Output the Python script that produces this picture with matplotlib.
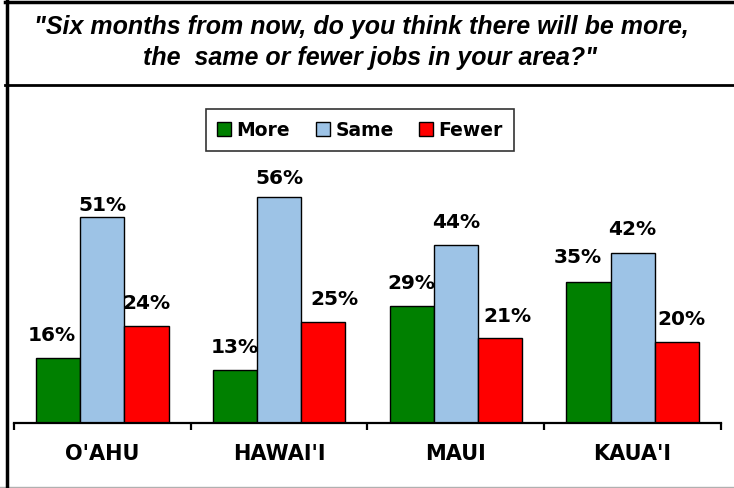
import numpy as np
import matplotlib.pyplot as plt
from matplotlib.lines import Line2D
from matplotlib.patches import Patch

plt.rcParams['font.family'] = ['DejaVu Sans']

islands = ["O'AHU", "HAWAI'I", "MAUI", "KAUA'I"]
more = [16, 13, 29, 35]
same = [51, 56, 44, 42]
fewer = [24, 25, 21, 20]
series_names = ['More', 'Same', 'Fewer']
colors = ['#008000', '#9DC3E6', '#FF0000']

# label nudges in pixels (dx, gap above bar), keyed by (series, island)
label_gap = 17
nudges = {(0, 0): (-6, 17), (0, 3): (-11, 19), (2, 1): (11, 17), (2, 2): (7, 16),
          (2, 3): (5, 17), (1, 0): (0, 6), (1, 1): (0, 13), (1, 3): (0, 18)}

W, H = 734, 488
fig = plt.figure(figsize=(W / 100, H / 100), dpi=100)

# frame lines around the chart and under the question
def hline(y, x0, x1, lw, color='black'):
    fig.add_artist(Line2D([x0 / W, x1 / W], [1 - y / H, 1 - y / H], color=color, lw=lw))

hline(2, 5, W, 2.5)
hline(85, 5, W, 2.0)
hline(486.5, 0, W, 1.0, '#b0b0b0')
fig.add_artist(Line2D([6.5 / W, 6.5 / W], [0, 1], color='black', lw=2.5))

title_font = dict(ha='center', va='center', fontsize=18, fontweight='bold', style='italic',
                  family='Liberation Sans')
fig.text(0.493, 1 - 27 / H, '"Six months from now, do you think there will be more,', **title_font)
fig.text(0.504, 1 - 58 / H, 'the  same or fewer jobs in your area?"', **title_font)

ymax = 70
ax = fig.add_axes([14 / W, 65 / H, (721 - 14) / W, ymax * 4.04 / H])
x = np.arange(len(islands))
width = 0.25
for i, (vals, name) in enumerate(zip([more, same, fewer], series_names)):
    pos = x + (i - 1) * width
    ax.bar(pos, vals, width, color=colors[i], edgecolor='black', linewidth=1.0, label=name)
    for j, (px, v) in enumerate(zip(pos, vals)):
        dx, gap = nudges.get((i, j), (0, label_gap))
        ax.annotate(f'{v}%', (px, v), xytext=(dx * 0.72, gap * 0.72), textcoords='offset points',
                    ha='center', va='baseline', fontsize=14.5, fontweight='bold')

ax.set_xlim(-0.5, len(islands) - 0.5)
ax.set_ylim(0, ymax)
for s in ['top', 'right', 'left']:
    ax.spines[s].set_visible(False)
ax.spines['bottom'].set_linewidth(1.6)
ax.set_yticks([])
ax.set_xticks(x)
ax.set_xticklabels([])
ax.tick_params(axis='x', which='major', length=0)
for xi, name in zip(x, islands):
    ax.annotate(name, (xi, 0), xytext=(0, -37 * 0.72), textcoords='offset points',
                ha='center', va='baseline', fontsize=15, fontweight='bold')
ax.set_xticks(np.arange(-0.5, len(islands)), minor=True)
ax.tick_params(axis='x', which='minor', length=5, width=1.6, direction='out')
ax.patch.set_visible(False)

handles = [Patch(facecolor=c, edgecolor='black', linewidth=1.0) for c in colors]
leg = fig.legend(handles, series_names, loc='center', bbox_to_anchor=(360 / W, 1 - 130 / H),
                 ncol=3, frameon=True, fancybox=False, edgecolor='black',
                 prop={'weight': 'bold', 'size': 13.5}, handlelength=0.75, handleheight=0.75,
                 handletextpad=0.3, columnspacing=1.35, borderpad=0.6)
leg.get_frame().set_linewidth(1.2)

fig.savefig('out.png', dpi=100)
